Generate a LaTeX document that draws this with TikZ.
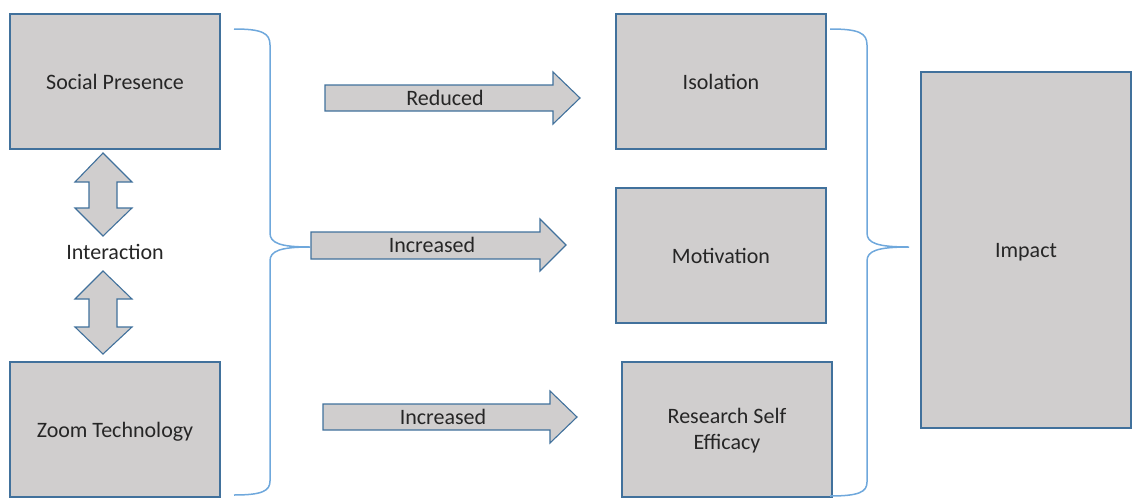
\documentclass[tikz,border=0pt]{standalone}
\usepackage{fontspec}
\setmainfont{Carlito}
\definecolor{boxfill}{HTML}{D0CECE}
\definecolor{boxline}{HTML}{41719C}
\definecolor{braceline}{HTML}{6FA8DC}
\begin{document}
\begin{tikzpicture}[x=1pt,y=-1pt,
  box/.style={draw=boxline,fill=boxfill,line width=1.1pt,minimum width=210pt,minimum height=135pt,
    inner sep=0pt,align=center,font=\fontsize{22}{26}\selectfont,text=black!85,
    text height=15pt,text depth=0pt},
  shape arrow/.style={draw=boxline,fill=boxfill,line width=1.1pt,line join=miter},
  label/.style={font=\fontsize{22}{26}\selectfont,text=black!85,inner sep=0pt},
  brace/.style={draw=braceline,line width=1.5pt}]
\useasboundingbox (0,0) rectangle (1137,498);

% left column
\node[box] (social) at (115,81.5) {Social Presence};
\node[box] (zoom) at (115,429.5) {Zoom Technology};
\node[label] (inter) at (115,252) {Interaction};

% double-headed block arrows
\draw[shape arrow] (103,153) -- (132,182) -- (117,182) -- (117,208) -- (132,208) -- (103,236)
  -- (75,208) -- (89,208) -- (89,182) -- (75,182) -- cycle;
\draw[shape arrow] (103,271) -- (132,299) -- (117,299) -- (117,327) -- (132,327) -- (103,354)
  -- (75,327) -- (89,327) -- (89,299) -- (75,299) -- cycle;

% left brace
\coordinate (lb1) at (234,29);
\coordinate (lbt) at (310,247);
\coordinate (lb2) at (234,495);
\draw[brace] (lb1) .. controls (262,29) and (270,33) .. (270,45) -- (270,233)
  .. controls (270,243) and (280,247) .. (lbt)
  .. controls (280,247) and (270,251) .. (270,261) -- (270,481)
  .. controls (270,491) and (262,495) .. (lb2);

% block arrows
\draw[shape arrow] (325,85) -- (553,85) -- (553,72) -- (580,98) -- (553,124) -- (553,111) -- (325,111) -- cycle;
\node[label] (reduced) at (445,98) {Reduced};
\draw[shape arrow] (311,232) -- (540,232) -- (540,219) -- (566,245) -- (540,271) -- (540,259) -- (311,259) -- cycle;
\node[label] (inc1) at (432,245) {Increased};
\draw[shape arrow] (323,404) -- (550,404) -- (550,391) -- (577,417) -- (550,443) -- (550,430) -- (323,430) -- cycle;
\node[label] (inc2) at (443,417) {Increased};

% outcomes
\node[box] (iso) at (721,81.5) {Isolation};
\node[box] (mot) at (721,255.5) {Motivation};
\node[box,text height=40pt] (rse) at (727,429.5) {Research Self\\Efficacy};

% right brace
\coordinate (rb1) at (830,29);
\coordinate (rbt) at (909,247);
\coordinate (rb2) at (830,496);
\draw[brace] (rb1) .. controls (859,29) and (867,33) .. (867,45) -- (867,233)
  .. controls (867,243) and (877,247) .. (rbt)
  .. controls (877,247) and (867,251) .. (867,261) -- (867,482)
  .. controls (867,492) and (859,496) .. (rb2);

\node[box,minimum height=356pt] (impact) at (1026,250) {Impact};
\end{tikzpicture}
\end{document}
